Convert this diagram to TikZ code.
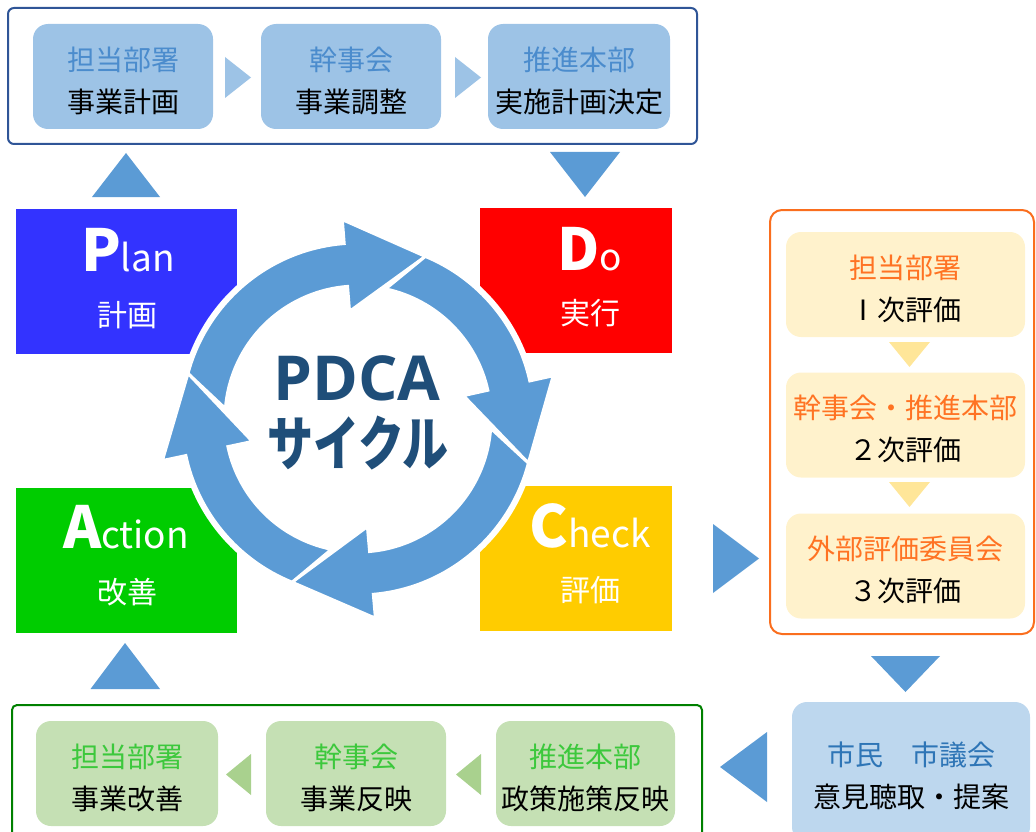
\documentclass[tikz,border=0pt]{standalone}
\usepackage{fontspec}
\usepackage{graphicx}
\setmainfont{Noto Sans CJK JP}
\newfontfamily\pdcafont{Open Sans}

\definecolor{frameblue}{RGB}{47,85,151}
\definecolor{cellblue}{RGB}{157,195,230}
\definecolor{labelblue}{RGB}{75,140,205}
\definecolor{ringblue}{RGB}{91,155,213}
\definecolor{planblue}{RGB}{51,51,255}
\definecolor{dored}{RGB}{255,0,0}
\definecolor{checkyellow}{RGB}{255,204,0}
\definecolor{actiongreen}{RGB}{0,204,0}
\definecolor{frameorange}{RGB}{250,110,30}
\definecolor{cellorange}{RGB}{255,242,204}
\definecolor{labelorange}{RGB}{255,115,35}
\definecolor{triyellow}{RGB}{255,230,153}
\definecolor{framegreen}{RGB}{0,128,0}
\definecolor{cellgreen}{RGB}{197,224,180}
\definecolor{labelgreen}{RGB}{60,200,60}
\definecolor{trigreen}{RGB}{169,209,142}
\definecolor{citizenblue}{RGB}{189,215,238}
\definecolor{citizentext}{RGB}{46,117,182}
\definecolor{pdcanavy}{RGB}{31,78,121}

% one arrow of the ring: head angle, head angle of the arrow before
\newcommand\ringarrow[2]{(#2-27:176) arc[start angle=#2-27, end angle=#1, radius=176]
  -- (#1:200) -- (#1-27:176) -- (#1:108) -- (#1:133)
  arc[start angle=#1, end angle=#2-16.5, radius=133] -- cycle}
% two lines of a step box: colour of the first line, first line, second line
\newcommand\twoline[3]{\rule{0pt}{32pt}\textcolor{#1}{#2}\\#3}

\begin{document}
\begin{tikzpicture}[x=1pt, y=-1pt,
    cell/.style={rounded corners=15pt, minimum width=180pt, minimum height=105pt,
      inner sep=0pt, align=center, font=\fontsize{28}{42}\selectfont},
    phase/.style={inner sep=0pt, minimum width=221pt, minimum height=145pt},
    bigletter/.style={text=white, anchor=base, inner sep=0pt},
    phasejp/.style={text=white, inner sep=0pt, font=\fontsize{30}{30}\selectfont}]
    \useasboundingbox (0,0) rectangle (1036,832);

    % Plan steps
    \draw[frameblue, line width=2pt, rounded corners=6pt] (8,8) rectangle (697,144);
    \node[cell, fill=cellblue] (pstep1) at (123,76.5) {\twoline{labelblue}{担当部署}{事業計画}};
    \node[cell, fill=cellblue] (pstep2) at (351,76.5) {\twoline{labelblue}{幹事会}{事業調整}};
    \node[cell, fill=cellblue, minimum width=182pt] (pstep3) at (579,76.5) {\twoline{labelblue}{推進本部}{実施計画決定}};
    \fill[cellblue] (225,57) -- (251,77.5) -- (225,98) -- cycle;
    \fill[cellblue] (455,57) -- (481,77.5) -- (455,98) -- cycle;
    \fill[ringblue] (92,197) -- (126,153) -- (160,197) -- cycle;
    \fill[ringblue] (550,152) -- (585,197) -- (620,152) -- cycle;

    % PDCA boxes
    \node[phase, fill=planblue] (plan) at (126.5,281.5) {};
    \node[phase, fill=dored, minimum width=192pt] (do) at (576,280.5) {};
    \node[phase, fill=actiongreen] (action) at (126.5,560) {};
    \node[phase, fill=checkyellow, minimum width=192pt] (check) at (576,558) {};
    \node[bigletter] (plantxt) at (128,271) {\fontsize{58}{58}\selectfont\bfseries P\mdseries\fontsize{37}{37}\selectfont lan};
    \node[bigletter] (dotxt) at (590,270) {\fontsize{58}{58}\selectfont\bfseries D\mdseries\fontsize{37}{37}\selectfont o};
    \node[bigletter] (actiontxt) at (126,548) {\fontsize{58}{58}\selectfont\bfseries A\mdseries\fontsize{37}{37}\selectfont ction};
    \node[bigletter] (checktxt) at (590,547) {\fontsize{58}{58}\selectfont\bfseries C\mdseries\fontsize{37}{37}\selectfont heck};
    \node[phasejp] (planjp) at (127,315) {計画};
    \node[phasejp] (dojp) at (590,313) {実行};
    \node[phasejp] (actionjp) at (127,592) {改善};
    \node[phasejp] (checkjp) at (590,590) {評価};

    % ring
    \begin{scope}[shift={(358,419)}, yscale=-1]
    \foreach \h/\p in {94.5/192, 12.5/94.5, -85/12.5, -168/-85}
      \filldraw[white, line width=9pt, line join=round] \ringarrow{\h}{\p};
    \foreach \h/\p in {94.5/192, 12.5/94.5, -85/12.5, -168/-85}
      \filldraw[fill=ringblue, draw=white, line width=3pt] \ringarrow{\h}{\p};
    \end{scope}
    \node[text=pdcanavy, font=\pdcafont\bfseries\fontsize{62}{62}\selectfont] (pdca) at (357,378.5) {PDCA};
    \node[text=pdcanavy, font=\bfseries\fontsize{59}{59}\selectfont] (cycle) at (358,443) {\scalebox{0.78}[1]{サイクル}};

    % Check steps
    \fill[ringblue] (713,524) -- (759,558.5) -- (713,593) -- cycle;
    \draw[frameorange, line width=2pt, rounded corners=12pt] (770,210) rectangle (1034,634);
    \node[cell, fill=cellorange, minimum width=239pt] (cstep1) at (905.5,284.5) {\twoline{labelorange}{担当部署}{Ⅰ次評価}};
    \node[cell, fill=cellorange, minimum width=239pt] (cstep2) at (905.5,425) {\twoline{labelorange}{幹事会・推進本部}{２次評価}};
    \node[cell, fill=cellorange, minimum width=239pt] (cstep3) at (905.5,566) {\twoline{labelorange}{外部評価委員会}{３次評価}};
    \fill[triyellow] (889,342) -- (909.5,367) -- (930,342) -- cycle;
    \fill[triyellow] (889,482) -- (909.5,507) -- (930,482) -- cycle;

    % citizens
    \fill[ringblue] (871,656) -- (905.5,692) -- (940,656) -- cycle;
    \node[cell, fill=citizenblue, minimum width=238pt, minimum height=140pt] (citizen) at (911,772) {\twoline{citizentext}{市民　市議会}{意見聴取・提案}};
    \fill[ringblue] (767,732) -- (720,767) -- (767,802) -- cycle;

    % Action steps
    \draw[framegreen, line width=2pt, rounded corners=5pt] (12,705) rectangle (702,845);
    \node[cell, fill=cellgreen, minimum width=182pt] (astep1) at (127,773.5) {\twoline{labelgreen}{担当部署}{事業改善}};
    \node[cell, fill=cellgreen] (astep2) at (356,773.5) {\twoline{labelgreen}{幹事会}{事業反映}};
    \node[cell, fill=cellgreen, minimum width=179pt] (astep3) at (585.5,773.5) {\twoline{labelgreen}{推進本部}{政策施策反映}};
    \fill[trigreen] (251,754) -- (226,774.5) -- (251,795) -- cycle;
    \fill[trigreen] (481,754) -- (456,774.5) -- (481,795) -- cycle;
    \fill[ringblue] (90.5,689) -- (125,643) -- (160,689) -- cycle;
\end{tikzpicture}
\end{document}
